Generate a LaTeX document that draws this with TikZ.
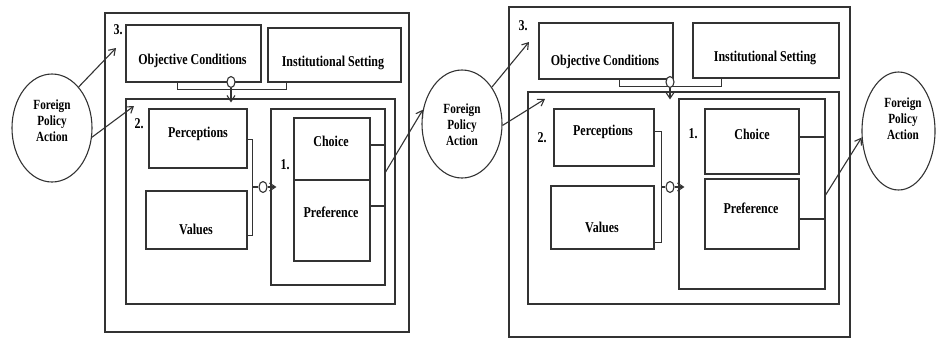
\documentclass[tikz,border=0pt]{standalone}
\usepackage{fontspec}
\setmainfont{Liberation Serif}[FakeStretch=0.8]
\usetikzlibrary{arrows.meta,shapes.geometric,fit}
\begin{document}
\begin{tikzpicture}[x=1pt,y=-1pt,
  ln/.style={draw=black!80,line width=1.1pt},
  bx/.style={ln,rectangle,inner sep=0pt},
  jn/.style={ln,ellipse,fill=white,inner sep=0pt,minimum width=8pt,minimum height=11pt},
  fpa/.style={ln,ellipse,inner sep=0pt},
  lbl/.style={font=\fontsize{15}{17}\selectfont\bfseries,inner sep=0pt,anchor=base},
  fpt/.style={font=\fontsize{14}{16}\selectfont\bfseries,inner sep=0pt,align=center,anchor=center},
  arr/.style={ln,-{Straight Barb[length=6pt,width=8pt]}}]
\useasboundingbox (0,0) rectangle (936,338);

% ---------- first stage ----------
\node[fpa,minimum width=80pt,minimum height=108pt] (e1) at (52,128) {};
\node[fpt] (t1) at (52,120.6) {Foreign\\Policy\\Action};

\node[bx,fit={(105,13) (409,332)}] (out1) {};
\node[bx,fit={(126,25) (261,82)}] (obj1) {};
\node[bx,fit={(268,28) (401,82)}] (inst1) {};
\node[bx,fit={(126,99) (395,304)}] (bb1) {};
\node[bx,fit={(149,109) (247,168)}] (per1) {};
\node[bx,fit={(146,191) (247,249)}] (val1) {};
\node[bx,fit={(271,109) (385,285)}] (ba1) {};
\node[bx,fit={(294,118) (370,180)}] (ch1) {};
\node[bx,fit={(294,180) (370,261)}] (pr1) {};

\node[lbl] (n31) at (118,34) {3.};
\node[lbl] at (192.5,64) {Objective Conditions};
\node[lbl] at (333,66) {Institutional Setting};
\node[lbl] (n21) at (139,128) {2.};
\node[lbl] at (198,137) {Perceptions};
\node[lbl] at (196,234) {Values};
\node[lbl] (n11) at (285,169) {1.};
\node[lbl] at (331,146) {Choice};
\node[lbl] at (331,217) {Preference};

% objective conditions + institutional setting feed stage 2
\draw[ln] ([xshift=52pt]obj1.south west) -- ++(0,7) -| ([xshift=19pt]inst1.south west);
\node[jn] (j1) at (231,82) {};
\draw[arr,shorten >=-4pt] (j1.south) -- (j1 |- bb1.north);

% perceptions + values feed stage 1
\draw[ln] ([yshift=-31pt]per1.north east) -- ++(5,0) coordinate (k1)
          |- ([yshift=-45pt]val1.north east);
\node[jn] (j2) at (263,187) {};
\draw[ln] (k1 |- j2) -- (j2.west);
\draw[arr,shorten >=-6pt] (j2.east) -- (j2 -| ba1.west);

% choice and preference lead out
\draw[ln] ([yshift=4pt]ch1.east) -- ([yshift=4pt]ch1.east -| ba1.east);
\draw[ln] ([yshift=14.5pt]pr1.east) -- ([yshift=14.5pt]pr1.east -| ba1.east);

% feedback of the action
\coordinate (a1) at (116,48);
\coordinate (a2) at (134,106);
\draw[arr] (e1.57) -- (a1);
\draw[arr] (e1.-13) -- (a2);

% ---------- second stage ----------
\node[fpa,minimum width=80pt,minimum height=108pt] (e2) at (462,124) {};
\node[fpt] (t2) at (462,124.6) {Foreign\\Policy\\Action};
\draw[arr] ([yshift=25pt]ba1.east) -- (e2.160);

\node[bx,fit={(509,7) (850,337)}] (out2) {};
\node[bx,fit={(539,23) (673,79)}] (obj2) {};
\node[bx,fit={(693,23) (839,78)}] (inst2) {};
\node[bx,fit={(528,92) (839,304)}] (bb2) {};
\node[bx,fit={(554,109) (654,166)}] (per2) {};
\node[bx,fit={(551,186) (654,249)}] (val2) {};
\node[bx,fit={(679,99) (825,289)}] (ba2) {};
\node[bx,fit={(705,109) (799,174)}] (ch2) {};
\node[bx,fit={(705,179) (799,249)}] (pr2) {};

\node[lbl] (n32) at (523,30) {3.};
\node[lbl] at (605,65) {Objective Conditions};
\node[lbl] at (765,61) {Institutional Setting};
\node[lbl] (n22) at (542,142) {2.};
\node[lbl] at (603,135) {Perceptions};
\node[lbl] at (602,232) {Values};
\node[lbl] (n12) at (693,138) {1.};
\node[lbl] at (752,139) {Choice};
\node[lbl] at (751,213) {Preference};

\draw[ln] ([xshift=81pt]obj2.south west) -- ++(0,7) -| ([xshift=29pt]inst2.south west);
\node[jn] (j3) at (670,82) {};
\draw[arr,shorten >=-8pt] (j3.south) -- (j3 |- bb2.north);

\draw[ln] ([yshift=-23pt]per2.north east) -- ++(7,0) coordinate (k2)
          |- ([yshift=-57pt]val2.north east);
\node[jn] (j4) at (670,187) {};
\draw[ln] (k2 |- j4) -- (j4.west);
\draw[arr,shorten >=-6pt] (j4.east) -- (j4 -| ba2.west);

\draw[ln] ([yshift=4.5pt]ch2.east) -- ([yshift=4.5pt]ch2.east -| ba2.east);
\draw[ln] ([yshift=-5pt]pr2.east) -- ([yshift=-5pt]pr2.east -| ba2.east);

\coordinate (a3) at (529,42);
\coordinate (a4) at (545,99);
\draw[arr] (e2.51) -- (a3);
\draw[arr] (e2.-2) -- (a4);

% ---------- resulting action ----------
\node[fpa,minimum width=73pt,minimum height=118pt] (e3) at (898.5,131) {};
\node[fpt] (t3) at (903,118.6) {Foreign\\Policy\\Action};
\draw[arr] ([yshift=-1pt]ba2.east) -- (e3.190);
\end{tikzpicture}
\end{document}
